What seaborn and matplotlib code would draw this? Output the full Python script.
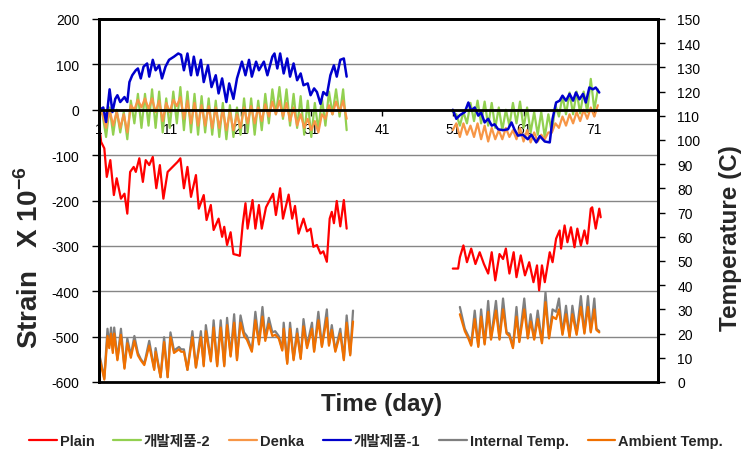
import matplotlib
matplotlib.use("Agg")
import matplotlib.pyplot as plt
import seaborn as sns
import pandas as pd
from matplotlib.lines import Line2D
from matplotlib import font_manager

# ---- data (day, strain x1e-6 / temperature C) ----
red_days_1 = [1.0, 1.3, 1.75, 2.1, 2.6, 3.1, 3.5, 4.1, 4.6, 5.0, 5.4, 5.9, 6.2, 6.7, 7.2, 7.6, 8.1, 8.6, 9.1,
              9.6, 10.1, 10.7, 11.4, 12.1, 12.5, 13.0, 13.5, 14.0, 14.7, 15.1, 15.8, 16.2, 16.8, 17.2, 17.9,
              18.4, 18.7, 19.1, 19.6, 20.0, 20.5, 20.9, 21.3, 21.7, 22.0, 22.7, 23.1, 23.6, 24.0, 24.6, 25.1,
              25.6, 26.0, 26.6, 27.0, 27.8, 28.3, 28.7, 29.2, 29.9, 30.4, 30.9, 31.3, 31.8, 32.3, 32.7, 33.2,
              33.6, 33.9, 34.2, 34.6, 35.1, 35.6, 36.0]
plain_1 = [-30, -71, -85, -148, -111, -188, -151, -196, -185, -229, -137, -126, -137, -107, -159, -111, -122,
           -104, -173, -122, -196, -137, -126, -115, -107, -173, -126, -192, -144, -218, -188, -243, -210, -265,
           -240, -280, -258, -298, -270, -318, -320, -322, -254, -206, -262, -199, -262, -210, -262, -215, -200,
           -185, -232, -173, -240, -187, -240, -212, -273, -240, -268, -262, -302, -298, -317, -312, -335, -240,
           -225, -250, -201, -257, -199, -262]
red_days_2 = [51.0, 51.75, 52.0, 52.5, 53.0, 53.6, 54.2, 54.8, 55.4, 56.0, 56.5, 57.0, 57.6, 58.1, 58.5, 59.0,
              59.6, 60.0, 60.6, 61.2, 61.8, 62.4, 62.9, 63.2, 63.6, 64.0, 64.7, 65.1, 65.6, 66.1, 66.3, 66.8,
              67.2, 67.7, 68.2, 68.6, 69.1, 69.6, 70.0, 70.5, 70.7, 71.2, 71.7, 71.9]
plain_2 = [-350, -350, -325, -299, -336, -306, -340, -314, -340, -361, -314, -376, -318, -329, -306, -361, -314,
           -369, -321, -365, -336, -380, -343, -398, -343, -380, -314, -336, -284, -266, -306, -255, -292, -259,
           -303, -262, -299, -266, -295, -218, -215, -262, -218, -237]

blue_days_1 = [1.0, 1.3, 1.6, 2.0, 2.5, 2.9, 3.3, 3.6, 4.0, 4.6, 5.0, 5.3, 5.7, 6.2, 6.5, 6.9, 7.3, 7.8, 8.1,
               8.6, 9.0, 9.5, 9.9, 10.4, 10.9, 11.6, 12.2, 12.6, 13.0, 13.5, 14.0, 14.4, 14.9, 15.4, 15.8, 16.4,
               16.9, 17.5, 17.9, 18.4, 19.0, 19.4, 20.0, 20.5, 21.2, 21.7, 22.2, 22.6, 23.2, 23.6, 24.3, 24.8,
               25.5, 25.8, 26.2, 26.6, 27.1, 27.6, 28.0, 28.5, 29.0, 29.5, 29.9, 30.5, 30.9, 31.4, 31.8, 32.3,
               32.7, 33.2, 33.7, 34.2, 34.6, 35.1, 35.6, 36.0]
dev1_1 = [0, 2, 5, -27, 45, -5, 24, 32, 17, 28, 17, 61, 76, 87, 91, 69, 95, 102, 73, 110, 87, 98, 69, 95, 110,
          117, 124, 121, 87, 124, 76, 117, 76, 110, 61, 98, 50, 76, 36, 69, 17, 58, 24, 69, 106, 76, 110, 73,
          106, 87, 106, 76, 117, 124, 91, 124, 80, 113, 73, 102, 65, 80, 54, 58, 32, 47, 39, 13, 39, 32, 76, 98,
          73, 110, 113, 73]
blue_days_2 = [51.0, 51.5, 52.0, 52.7, 53.2, 53.6, 54.1, 54.6, 55.0, 55.5, 56.0, 56.5, 56.9, 57.4, 58.1, 58.8,
               59.3, 59.7, 60.2, 60.9, 61.6, 62.1, 62.8, 63.3, 64.0, 64.7, 65.1, 65.6, 66.1, 66.5, 67.0, 67.5,
               68.0, 68.4, 68.9, 69.4, 69.8, 70.3, 70.8, 71.2, 71.7]
dev1_2 = [0, -20, -12, -5, 16, -2, 5, -13, -6, -28, -20, -35, -32, -43, -45, -43, -28, -43, -57, -55, -65, -55,
          -72, -58, -70, -72, -20, 16, 20, 31, 20, 35, 20, 38, 23, 35, 16, 49, 45, 49, 38]

half_days_1 = [1.0, 1.5, 2.0, 2.5, 3.0, 3.5, 4.0, 4.5, 5.0, 5.5, 6.0, 6.5, 7.0, 7.5, 8.0, 8.5, 9.0, 9.5, 10.0,
               10.5, 11.0, 11.5, 12.0, 12.5, 13.0, 13.5, 14.0, 14.5, 15.0, 15.5, 16.0, 16.5, 17.0, 17.5, 18.0,
               18.5, 19.0, 19.5, 20.0, 20.5, 21.0, 21.5, 22.0, 22.5, 23.0, 23.5, 24.0, 24.5, 25.0, 25.5, 26.0,
               26.5, 27.0, 27.5, 28.0, 28.5, 29.0, 29.5, 30.0, 30.5, 31.0, 31.5, 32.0, 32.5, 33.0, 33.5, 34.0,
               34.5, 35.0, 35.5, 36.0]
dev2_1 = [0, -10, -60, 5, -55, 0, -50, -5, -65, 20, -30, 35, -40, 35, -35, 45, -40, 40, -50, 25, -40, 40, -30,
          50, -45, 40, -50, 35, -55, 30, -50, 25, -55, 20, -60, 15, -65, 10, -60, 5, -55, 25, -50, 25, -55, 20,
          -45, 35, -30, 45, -10, 50, -20, 45, -35, 35, -40, 30, -55, 20, -60, 15, -45, 25, -35, 40, -10, 45, -15,
          45, -45]
denka_1 = [0, -10, -40, 0, -35, -5, -40, -10, -50, 10, 0, 22, 5, 25, 2, 25, -5, 20, -25, 15, -5, 22, 8, 28, -20,
           20, -30, 15, -35, 10, -35, 8, -40, 5, -40, 0, -45, -5, -45, -10, -40, 5, -30, 8, -30, 5, -25, 12, -15,
           18, -10, 20, -15, 15, -25, 5, -35, -10, -40, -20, -45, -25, -50, -10, -20, 10, -10, 18, -5, 20, -20]
half_days_2 = [51.0, 51.5, 52.0, 52.5, 53.0, 53.5, 54.0, 54.5, 55.0, 55.5, 56.0, 56.5, 57.0, 57.5, 58.0, 58.5,
               59.0, 59.5, 60.0, 60.5, 61.0, 61.5, 62.0, 62.5, 63.0, 63.5, 64.0, 64.5, 65.0, 65.5, 66.0, 66.5,
               67.0, 67.5, 68.0, 68.5, 69.0, 69.5, 70.0, 70.5, 71.0, 71.5]
dev2_2 = [-5, -10, -35, -5, -30, 15, -25, 20, -30, 18, -35, 15, -40, 5, -45, 0, -35, 15, -30, 18, -40, 5, -50,
          -5, -55, -5, -60, -10, -50, 10, -15, 30, -10, 38, -10, 40, -8, 40, -5, 68, 0, 45]
denka_2 = [-45, -30, -60, -30, -55, -35, -60, -30, -65, -35, -70, -40, -65, -45, -65, -40, -60, -45, -65, -40,
           -70, -45, -72, -50, -70, -55, -65, -50, -50, -30, -40, -15, -35, -10, -30, -5, -25, 0, -20, 5, -15, 10]

temp_days_1 = [1.0, 1.3, 1.75, 2.2, 2.45, 2.7, 2.95, 3.15, 3.6, 4.1, 4.6, 5.0, 5.5, 6.0, 6.5, 6.9, 7.4, 8.1, 8.8,
               9.0, 9.7, 10.2, 10.7, 11.1, 11.6, 12.3, 12.6, 13.0, 13.5, 14.2, 14.7, 15.4, 15.8, 16.1, 16.8,
               17.2, 17.7, 18.2, 18.7, 19.1, 19.6, 20.1, 20.5, 21.0, 21.5, 21.9, 22.6, 23.1, 23.6, 24.1, 24.5,
               25.0, 25.5, 25.9, 26.4, 26.9, 27.1, 27.6, 28.0, 28.5, 29.0, 29.5, 29.9, 30.4, 31.1, 31.4, 32.0,
               32.5, 33.2, 33.5, 33.9, 34.4, 35.1, 35.6, 36.0, 36.5, 36.9]
internal_1 = [12, 8, 1.5, 22, 15, 22.5, 13, 22.5, 9.5, 22, 6, 18, 11, 19, 12, 9.5, 7.5, 17, 5.5, 14, 2, 18.5, 2,
              20.5, 13, 14.5, 13.5, 13.5, 5, 21, 6, 21, 7, 23.5, 9, 25.5, 7, 25.5, 7, 26.5, 11, 28, 9.5, 27.5,
              20.5, 19, 13, 29, 16.5, 31, 18, 26.5, 20.5, 21, 19, 13.5, 24.5, 8, 24.5, 9.5, 22, 10, 26, 15, 24.5,
              13, 29, 15, 30, 15.5, 23.5, 13, 22, 9.5, 27.5, 11.5, 29.5]
ambient_1 = [11, 7, 1, 19, 14, 20, 12, 20, 9, 19.5, 5.5, 16, 10, 17, 11, 9, 7, 15, 5, 12.5, 2, 16.5, 2, 18.5, 12,
             13.5, 12.5, 12.5, 5, 18.5, 6, 18.5, 6.5, 21, 8.5, 22.5, 6.5, 22.5, 6.5, 23.5, 10.5, 24.5, 9, 24.5,
             19, 17.5, 12.5, 25.5, 15.5, 27, 17, 24, 19, 19.5, 18, 13, 22, 7.5, 22, 9, 20, 9.5, 23, 14, 22, 12.5,
             25.5, 14.5, 26.5, 15, 21.5, 12.5, 20, 9, 24.5, 11, 25]
temp_days_2 = [52.0, 52.7, 53.2, 53.6, 54.1, 54.6, 55.0, 55.5, 56.0, 56.4, 57.1, 57.6, 58.1, 58.6, 59.0, 59.5,
               60.0, 60.4, 61.1, 61.6, 62.0, 62.5, 63.0, 63.6, 64.1, 64.6, 65.1, 65.6, 66.0, 66.5, 67.0, 67.5,
               67.9, 68.5, 69.1, 69.6, 70.1, 70.5, 71.0, 71.3, 71.7]
internal_2 = [31, 22, 19, 15.5, 29.5, 15, 30, 16, 33.5, 18, 33.5, 18, 34.5, 20.5, 20, 14.5, 31, 17, 34.5, 18.5,
              28, 18, 29.5, 16.5, 37, 18.5, 30, 29, 34.5, 20, 31.5, 19, 31.5, 20, 35.5, 20.5, 35.5, 21, 34.5, 22,
              21]
ambient_2 = [28, 21, 18, 15, 26, 14.5, 27, 15.5, 29, 17.5, 29.5, 17.5, 30, 20, 19, 14, 27, 16.5, 30, 18, 25,
             17.5, 26, 16, 33, 18, 27, 26, 30, 19.5, 28, 18.5, 28, 19.5, 31, 20, 31, 20.5, 30, 21.5, 20.5]

x_ticks = [1, 11, 21, 31, 41, 51, 61, 71]
legend_labels = ["Plain", "개발제품-2", "Denka", "개발제품-1", "Internal Temp.", "Ambient Temp."]
colors = ["#FF0000", "#92D050", "#F79646", "#0000CC", "#7F7F7F", "#F07000"]


def segments(*parts):
    rows = []
    for seg_id, (days, vals) in enumerate(parts):
        for d, v in zip(days, vals):
            rows.append({"day": d, "value": v, "seg": seg_id})
    return pd.DataFrame(rows)


def main():
    sns.set_style("white")
    plt.rcParams["font.family"] = ["Liberation Sans", "Noto Sans CJK KR"]
    plt.rcParams["axes.unicode_minus"] = False
    plt.rcParams["mathtext.fontset"] = "custom"
    plt.rcParams["mathtext.bf"] = "Liberation Sans:bold"
    plt.rcParams["mathtext.rm"] = "Liberation Sans"

    fig = plt.figure(figsize=(7.45, 4.64), dpi=100)
    ax = fig.add_axes([99 / 745, 1 - 383 / 464, 559 / 745, 363 / 464])
    ax2 = ax.twinx()

    strain = [
        (segments((red_days_1, plain_1), (red_days_2, plain_2)), colors[0], 1.6),
        (segments((half_days_1, dev2_1), (half_days_2, dev2_2)), colors[1], 1.6),
        (segments((half_days_1, denka_1), (half_days_2, denka_2)), colors[2], 1.6),
        (segments((blue_days_1, dev1_1), (blue_days_2, dev1_2)), colors[3], 1.8),
    ]
    for df, color, lw in strain:
        sns.lineplot(data=df, x="day", y="value", units="seg", estimator=None,
                     color=color, lw=lw, ax=ax, legend=False)

    temps = [
        (segments((temp_days_1, internal_1), (temp_days_2, internal_2)), colors[4]),
        (segments((temp_days_1, ambient_1), (temp_days_2, ambient_2)), colors[5]),
    ]
    for df, color in temps:
        sns.lineplot(data=df, x="day", y="value", units="seg", estimator=None,
                     color=color, lw=1.6, ax=ax2, legend=False)

    ax.set_xlim(1, 80)
    ax.set_ylim(-600, 200)
    ax.set_yticks(range(-600, 201, 100))
    ax.set_xticks(x_ticks)
    ax2.set_ylim(0, 150)
    ax2.set_yticks(range(0, 151, 10))
    for a in (ax, ax2):
        a.set_xlabel("")
        a.set_ylabel("")

    ax.yaxis.grid(True, color="#868686", lw=1)
    ax.xaxis.grid(False)
    ax.set_axisbelow(True)

    # x axis crosses at strain = 0, frame kept by the twin axes
    ax.spines["bottom"].set_position(("data", 0))
    for s in ax.spines.values():
        s.set_color("black")
        s.set_linewidth(2)
    for s in ax2.spines.values():
        s.set_color("black")
        s.set_linewidth(2)

    ax.tick_params(axis="y", left=True, direction="out", length=5, width=1,
                   pad=9, labelsize=10, colors="black")
    ax.tick_params(axis="x", bottom=True, direction="out", length=4, width=1,
                   pad=5, labelsize=10, colors="black")
    ax2.tick_params(axis="y", right=True, direction="out", length=5, width=1,
                    pad=9, labelsize=10, colors="black")

    fig.text(30 / 745, 1 - 258 / 464, r"Strain   X 10$^{\mathbf{-6}}$", rotation=90,
             ha="center", va="center", fontsize=20, fontweight="bold")
    fig.text(731 / 745, 1 - 238 / 464, "Temperature (C)", rotation=90,
             ha="center", va="center", fontsize=17.5, fontweight="bold")
    fig.text(382 / 745, 1 - 405 / 464, "Time (day)", ha="center", va="center",
             fontsize=17.5, fontweight="bold")

    names = {f.name for f in font_manager.fontManager.ttflist}
    latin = "Liberation Sans Narrow" if "Liberation Sans Narrow" in names else "Liberation Sans"
    size = 12 if latin == "Liberation Sans Narrow" else 10.5
    prop = font_manager.FontProperties(family=[latin, "Noto Sans CJK KR"], weight="bold", size=size)
    handles = [Line2D([], [], color=c, lw=1.6) for c in colors]
    fig.legend(handles, legend_labels, loc="center", bbox_to_anchor=(376 / 745, 1 - 442 / 464),
               ncol=6, frameon=False, handlelength=1.9, handletextpad=0.2,
               columnspacing=1.3, prop=prop)

    fig.savefig("out.png", dpi=100)
    plt.close(fig)


if __name__ == "__main__":
    main()
